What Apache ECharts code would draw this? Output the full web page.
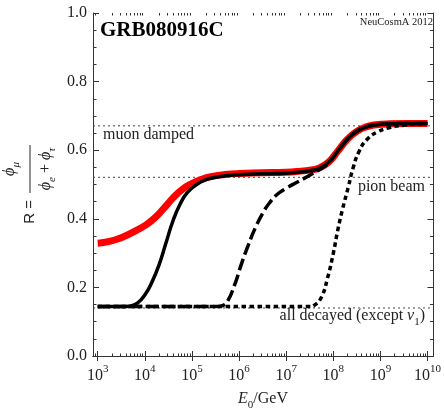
<!DOCTYPE html>
<html><head><meta charset="utf-8">
<script src="https://cdn.jsdelivr.net/npm/echarts@6/dist/echarts.min.js"></script>
<style>html,body{margin:0;padding:0;background:#fff}#c{width:444px;height:412px}</style>
</head><body><div id="c"></div>
<script>
// x values are log10(E0/GeV)
const xMajor = [3,4,5,6,7,8,9,10];
const yMajor = [0,0.2,0.4,0.6,0.8,1.0];

const redLogE = [3.0,3.25,3.5,3.75,4.0,4.2,4.4,4.6,4.8,5.0,5.2,5.4,5.7,6.0,6.5,7.0,7.3,7.5,7.7,7.9,8.1,8.3,8.5,8.7,8.9,9.2,9.6,10.0];
const redR    = [0.329,0.334,0.345,0.361,0.380,0.401,0.430,0.461,0.486,0.503,0.515,0.523,0.529,0.532,0.534,0.536,0.539,0.542,0.548,0.565,0.598,0.632,0.655,0.668,0.674,0.677,0.678,0.678];

const solidLogE = [3.0,3.5,3.7,3.85,4.0,4.15,4.3,4.45,4.6,4.75,4.9,5.1,5.3,5.5,5.8,6.2,6.8,7.2,7.5,7.7,7.9,8.1,8.3,8.5,8.7,8.9,9.2,9.6,10.0];
const solidR    = [0.144,0.144,0.146,0.155,0.178,0.215,0.265,0.330,0.395,0.443,0.476,0.500,0.514,0.521,0.527,0.530,0.532,0.535,0.540,0.547,0.565,0.598,0.632,0.655,0.668,0.674,0.677,0.678,0.678];

const dashLogE = [3.0,5.5,5.65,5.75,5.9,6.05,6.2,6.35,6.5,6.65,6.8,7.0,7.25,7.5,7.7,7.9,8.1,8.3,8.5,8.7,8.9,9.2,9.6,10.0];
const dashR    = [0.144,0.144,0.147,0.158,0.205,0.268,0.325,0.375,0.416,0.447,0.470,0.489,0.508,0.527,0.543,0.563,0.598,0.632,0.655,0.668,0.674,0.677,0.678,0.678];

const dotLogE = [3.0,7.5,7.6,7.75,7.88,8.0,8.1,8.2,8.32,8.42,8.55,8.72,8.95,9.2,9.5,9.8,10.0];
const dotR    = [0.144,0.144,0.148,0.172,0.228,0.299,0.370,0.430,0.493,0.548,0.597,0.632,0.654,0.666,0.673,0.677,0.678];

const refNames  = ['muon damped','pion beam','all decayed'];
const refValues = [0.671,0.521,0.140];

const X_MIN = 2.9, X_MAX = 10.126;
const SERIF = '"Liberation Serif","Times New Roman",serif';
const AX = '#333';

const xMinor = [];
for (let n = 2; n <= 10; n++) for (let k = 2; k <= 9; k++) {
  const v = n + Math.log10(k);
  if (v > X_MIN && v < X_MAX) xMinor.push(v);
}
const zip = (a,b) => a.map((v,i) => [v,b[i]]);

const chart = echarts.init(document.getElementById('c'), null, {renderer:'canvas'});

const baseX = (extra) => Object.assign({
  type:'value', min:X_MIN, max:X_MAX, gridIndex:0,
  splitLine:{show:false},
  axisLine:{show:false},
  axisLabel:{show:false},
  axisTick:{show:true, inside:true, length:5, lineStyle:{color:AX,width:1}}
}, extra);

const SM = 0.5;
const option = {
  animation:false,
  grid:{left:93, top:13, width:343, height:343, containLabel:false},
  xAxis:[
    baseX({position:'bottom', axisLine:{show:true,lineStyle:{color:AX,width:1}},
      axisTick:{show:true, inside:true, length:5, customValues:xMajor, lineStyle:{color:AX}},
      axisLabel:{show:true, customValues:xMajor, margin:8,
        formatter:v => '{b|10}{s|' + Math.round(v) + '}',
        rich:{b:{fontFamily:SERIF,fontSize:16,color:'#222',lineHeight:20,verticalAlign:'bottom'},
              s:{fontFamily:SERIF,fontSize:11,color:'#222',lineHeight:12,verticalAlign:'top'}}}}),
    baseX({position:'top', axisLine:{show:true,lineStyle:{color:AX,width:1}},
      axisTick:{show:true, inside:true, length:5, customValues:xMajor, lineStyle:{color:AX}}}),
    baseX({position:'bottom', axisTick:{show:true, inside:true, length:2.5, customValues:xMinor, lineStyle:{color:AX}}}),
    baseX({position:'top', axisTick:{show:true, inside:true, length:2.5, customValues:xMinor, lineStyle:{color:AX}}})
  ],
  yAxis:[
    {type:'value', min:0, max:1, interval:0.2, position:'left',
      axisLine:{show:true,lineStyle:{color:AX,width:1}},
      axisTick:{show:true, inside:true, length:6, lineStyle:{color:AX}},
      minorTick:{show:true, splitNumber:4, length:3.5, lineStyle:{color:AX}},
      splitLine:{show:false},
      axisLabel:{margin:6, formatter:v => v.toFixed(1), fontFamily:SERIF, fontSize:16, color:'#222'}},
    {type:'value', min:0, max:1, interval:0.2, position:'right',
      axisLine:{show:true,lineStyle:{color:AX,width:1}},
      axisTick:{show:true, inside:true, length:6, lineStyle:{color:AX}},
      minorTick:{show:true, splitNumber:4, length:3.5, lineStyle:{color:AX}},
      splitLine:{show:false}, axisLabel:{show:false}}
  ],
  series:[
    ...refValues.map((v,i) => ({
      name:refNames[i], type:'line', data:[[X_MIN,v],[X_MAX,v]], symbol:'none', silent:true,
      lineStyle:{color:'#444', width:1, type:[2,3]}, z:1
    })),
    {name:'red', type:'line', data:zip(redLogE,redR), symbol:'none', smooth:SM,
      lineStyle:{color:'#ff0000', width:7}, z:2},
    {name:'solid', type:'line', data:zip(solidLogE,solidR), symbol:'none', smooth:SM,
      lineStyle:{color:'#000', width:3.5}, z:3},
    {name:'dashed', type:'line', data:zip(dashLogE,dashR), symbol:'none', smooth:SM,
      lineStyle:{color:'#000', width:3.5, type:[12,4.5], cap:'butt'}, z:4},
    {name:'dotted', type:'line', data:zip(dotLogE,dotR), symbol:'none', smooth:SM,
      lineStyle:{color:'#000', width:3.5, type:[4.5,3.5], cap:'butt'}, z:5}
  ],
  graphic:[
    {type:'text', left:100, top:20, z:10, style:{text:'GRB080916C', font:'bold 21px '+SERIF, fill:'#000'}},
    {type:'text', right:11, top:17, z:10, style:{text:'NeuCosmA 2012', font:'10.5px '+SERIF, fill:'#222'}},
    {type:'text', left:103, top:127, z:10, style:{text:'muon damped', font:'16px '+SERIF, fill:'#222'}},
    {type:'text', right:19, top:179, z:10, style:{text:'pion beam', font:'16px '+SERIF, fill:'#222'}},
    {type:'text', right:19, top:308, z:10, style:{
      text:'{n|all decayed (except }{v|ν}{s|1}{n|)}', fill:'#222',
      rich:{n:{fontFamily:SERIF,fontSize:16,lineHeight:20,verticalAlign:'top'},
            v:{fontFamily:SERIF,fontStyle:'italic',fontSize:16,lineHeight:20,verticalAlign:'top'},
            s:{fontFamily:SERIF,fontSize:11,lineHeight:12,verticalAlign:'bottom'}}}},
    {type:'text', left:238, top:391, z:10, style:{
      text:'{e|E}{s|0}{n|/GeV}', fill:'#222',
      rich:{e:{fontFamily:SERIF,fontStyle:'italic',fontSize:16,lineHeight:20,verticalAlign:'top'},
            n:{fontFamily:SERIF,fontSize:16,lineHeight:20,verticalAlign:'top'},
            s:{fontFamily:SERIF,fontSize:11,lineHeight:12,verticalAlign:'bottom'}}}},
    {type:'group', x:30, y:169, rotation:Math.PI/2, z:10, children:[
      {type:'line', shape:{x1:-24,y1:0,x2:24,y2:0}, style:{stroke:'#222', lineWidth:1}},
      {type:'text', x:0, y:-8, style:{text:'{p|ϕ}{s|μ}', align:'center', verticalAlign:'bottom', fill:'#222',
        rich:{p:{fontFamily:SERIF,fontStyle:'italic',fontSize:16,lineHeight:20,verticalAlign:'top'},
              s:{fontFamily:SERIF,fontStyle:'italic',fontSize:11,lineHeight:12,verticalAlign:'bottom'}}}},
      {type:'text', x:0, y:8, style:{text:'{p|ϕ}{s|e}{n| + }{p|ϕ}{s|τ}', align:'center', verticalAlign:'top', fill:'#222',
        rich:{p:{fontFamily:SERIF,fontStyle:'italic',fontSize:16,lineHeight:20,verticalAlign:'top'},
              n:{fontFamily:SERIF,fontSize:16,lineHeight:20,verticalAlign:'top'},
              s:{fontFamily:SERIF,fontStyle:'italic',fontSize:11,lineHeight:12,verticalAlign:'bottom'}}}},
      {type:'text', x:-31, y:0, style:{text:'R =', align:'right', verticalAlign:'middle', fill:'#222',
        font:'15px "Liberation Sans",Arial,sans-serif'}}
    ]}
  ]
};
chart.setOption(option);
</script></body></html>
